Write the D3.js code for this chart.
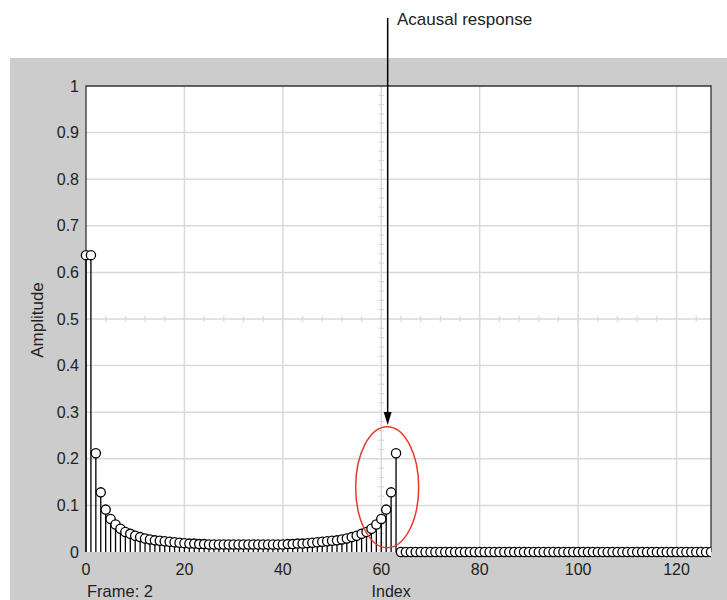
<!DOCTYPE html>
<html lang="en">
<head>
    <meta charset="UTF-8">
    <title>Acausal response</title>
    <script src="https://d3js.org/d3.v7.min.js"></script>
    <style>
        body {
            margin: 0;
            background: white;
            font-family: 'Liberation Sans', Arial, sans-serif;
        }
        svg text {
            fill: #222;
        }
    </style>
</head>
<body>
    <svg width="727" height="600"></svg>

    <script>
        // amplitude per index (0..127)
        const amplitudeHead = [
            0.637, 0.637, 0.212, 0.128, 0.091, 0.071, 0.059, 0.050,
            0.043, 0.039, 0.035, 0.032, 0.029, 0.027, 0.025, 0.024,
            0.023, 0.022, 0.021, 0.020, 0.019, 0.018, 0.018, 0.017,
            0.017, 0.016, 0.016, 0.016, 0.016, 0.016, 0.016, 0.016,
            0.016, 0.016, 0.016, 0.016, 0.016, 0.016, 0.016, 0.016,
            0.016, 0.017, 0.017, 0.018, 0.018, 0.019, 0.020, 0.021,
            0.022, 0.023, 0.024, 0.025, 0.027, 0.029, 0.032, 0.035,
            0.039, 0.043, 0.050, 0.059, 0.071, 0.091, 0.128, 0.212
        ];
        const amplitudeTail = [
            0, 0, 0, 0, 0, 0, 0, 0, 0, 0, 0, 0, 0, 0, 0, 0,
            0, 0, 0, 0, 0, 0, 0, 0, 0, 0, 0, 0, 0, 0, 0, 0,
            0, 0, 0, 0, 0, 0, 0, 0, 0, 0, 0, 0, 0, 0, 0, 0,
            0, 0, 0, 0, 0, 0, 0, 0, 0, 0, 0, 0, 0, 0, 0, 0
        ];
        const xTicks = [0, 20, 40, 60, 80, 100, 120];
        const yTicks = [0, 0.1, 0.2, 0.3, 0.4, 0.5, 0.6, 0.7, 0.8, 0.9, 1];
        const annotationLabel = "Acausal response";
        const frameLabel = "Frame: 2";

        const data = amplitudeHead.concat(amplitudeTail).map((v, i) => ({index: i, value: v}));

        const svg = d3.select("svg");
        const plot = {left: 86, right: 711, top: 86, bottom: 552};

        const x = d3.scaleLinear().domain([0, 127]).range([plot.left, plot.right]);
        const y = d3.scaleLinear().domain([0, 1]).range([plot.bottom, plot.top]);

        // gray figure panel
        svg.append("rect")
            .attr("x", 10).attr("y", 58)
            .attr("width", 717).attr("height", 542)
            .attr("fill", "#cccccc");

        svg.append("rect")
            .attr("x", plot.left).attr("y", plot.top)
            .attr("width", plot.right - plot.left).attr("height", plot.bottom - plot.top)
            .attr("fill", "white");

        // only the right edge cuts the markers
        svg.append("clipPath").attr("id", "clip")
            .append("rect")
            .attr("x", plot.left - 8).attr("y", plot.top - 8)
            .attr("width", plot.right - plot.left + 8).attr("height", plot.bottom - plot.top + 16);

        const g = svg.append("g");
        const gridColor = "#d9d9d9";

        // grid
        g.selectAll(".vgrid")
            .data(xTicks.filter(d => d > 0))
            .join("line")
            .attr("x1", d => x(d)).attr("x2", d => x(d))
            .attr("y1", plot.top).attr("y2", plot.bottom)
            .attr("stroke", gridColor).attr("stroke-width", 1.5);

        g.selectAll(".hgrid")
            .data(yTicks.filter(d => d > 0 && d < 1))
            .join("line")
            .attr("x1", plot.left).attr("x2", plot.right)
            .attr("y1", d => y(d)).attr("y2", d => y(d))
            .attr("stroke", gridColor).attr("stroke-width", 1.5);

        // crosshair minor ticks on x=60 and y=0.5
        g.selectAll(".cx")
            .data(d3.range(4, 127, 4))
            .join("line")
            .attr("x1", d => x(d)).attr("x2", d => x(d))
            .attr("y1", y(0.5) - 3).attr("y2", y(0.5) + 3)
            .attr("stroke", gridColor).attr("stroke-width", 1.2);

        g.selectAll(".cy")
            .data(d3.range(0.02, 1, 0.02))
            .join("line")
            .attr("x1", x(60) - 3).attr("x2", x(60) + 3)
            .attr("y1", d => y(d)).attr("y2", d => y(d))
            .attr("stroke", gridColor).attr("stroke-width", 1.2);

        // box border
        svg.append("path")
            .attr("d", `M${plot.left},${plot.bottom}V${plot.top}H${plot.right}V${plot.bottom}`)
            .attr("fill", "none")
            .attr("stroke", "#333")
            .attr("stroke-width", 1.3);

        // stems
        const marks = svg.append("g").attr("clip-path", "url(#clip)");
        marks.selectAll(".stem")
            .data(data.filter(d => d.value > 0))
            .join("line")
            .attr("x1", d => x(d.index)).attr("x2", d => x(d.index))
            .attr("y1", y(0)).attr("y2", d => y(d.value))
            .attr("stroke", "black").attr("stroke-width", 1.3);

        marks.selectAll(".pt")
            .data(data)
            .join("circle")
            .attr("cx", d => x(d.index))
            .attr("cy", d => y(d.value))
            .attr("r", 4.6)
            .attr("fill", "white")
            .attr("stroke", "black")
            .attr("stroke-width", 1.3);

        // tick labels
        svg.selectAll(".ylab")
            .data(yTicks)
            .join("text")
            .attr("x", 79)
            .attr("y", d => y(d) + 5.5)
            .attr("text-anchor", "end")
            .attr("font-size", 16)
            .text(d => d3.format("~g")(d));

        svg.selectAll(".xlab")
            .data(xTicks)
            .join("text")
            .attr("x", d => x(d))
            .attr("y", 575)
            .attr("text-anchor", "middle")
            .attr("font-size", 16)
            .text(d => d);

        svg.append("text")
            .attr("transform", "translate(43, 320) rotate(-90)")
            .attr("text-anchor", "middle")
            .attr("font-size", 17)
            .text("Amplitude");

        svg.append("text")
            .attr("x", x(62))
            .attr("y", 597)
            .attr("text-anchor", "middle")
            .attr("font-size", 16)
            .text("Index");

        svg.append("text")
            .attr("x", 87)
            .attr("y", 597)
            .attr("font-size", 16.5)
            .text(frameLabel);

        // annotation: arrow + ellipse
        const ax = x(61.3);
        svg.append("line")
            .attr("x1", ax).attr("x2", ax)
            .attr("y1", 18).attr("y2", 414)
            .attr("stroke", "black").attr("stroke-width", 1.5);
        svg.append("path")
            .attr("d", `M${ax - 4},${412}L${ax + 4},${412}L${ax},${425}Z`)
            .attr("fill", "black");

        svg.append("text")
            .attr("x", 397)
            .attr("y", 25)
            .attr("font-size", 17)
            .text(annotationLabel);

        svg.append("ellipse")
            .attr("cx", x(61.2))
            .attr("cy", y(0.139))
            .attr("rx", 31.5)
            .attr("ry", 60.5)
            .attr("fill", "none")
            .attr("stroke", "#e8392a")
            .attr("stroke-width", 1.5);
    </script>
</body>
</html>
